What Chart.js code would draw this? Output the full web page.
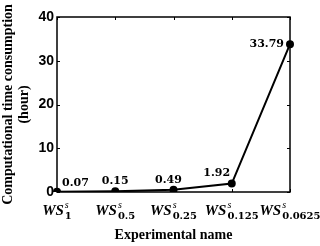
<!DOCTYPE html>
<html>
<head>
<meta charset="utf-8">
<script src="https://cdn.jsdelivr.net/npm/chart.js@4"></script>
<style>
  html, body { margin: 0; padding: 0; background: #fff; }
  #wrap { width: 320px; height: 246px; }
</style>
</head>
<body>
<div id="wrap"><canvas id="c"></canvas></div>
<script>
// experiment names are WS^s with these subscripts
const expSubs = ["1", "0.5", "0.25", "0.125", "0.0625"];
const hours = [0.07, 0.15, 0.49, 1.92, 33.79];
const yTicks = [0, 10, 20, 30, 40];

// where each value label sits relative to its point: dx, dy, align
const labelPlace = [
  [5, -5, "left"],
  [0, -6, "center"],
  [-5, -6, "center"],
  [-15, -6, "center"],
  [-6, 4, "right"],
];

const frame = {
  id: "frame",
  afterDraw(chart) {
    const { ctx, chartArea: a, scales } = chart;
    const x = scales.x, y = scales.y;
    ctx.save();
    ctx.strokeStyle = "#000";
    ctx.lineWidth = 1.5;
    ctx.strokeRect(a.left, a.top, a.right - a.left, a.bottom - a.top);

    // inward ticks
    ctx.lineWidth = 1;
    ctx.beginPath();
    yTicks.forEach(v => {
      const py = Math.round(y.getPixelForValue(v)) + 0.5;
      ctx.moveTo(a.left, py); ctx.lineTo(a.left + 3, py);
      ctx.moveTo(a.right, py); ctx.lineTo(a.right - 3, py);
    });
    expSubs.forEach((s, i) => {
      const px = Math.round(x.getPixelForValue(i)) + 0.5;
      ctx.moveTo(px, a.bottom); ctx.lineTo(px, a.bottom - 3);
      ctx.moveTo(px, a.top); ctx.lineTo(px, a.top + 3);
    });
    ctx.stroke();

    // category labels WS^s_sub
    ctx.fillStyle = "#000";
    ctx.textBaseline = "alphabetic";
    ctx.textAlign = "left";
    expSubs.forEach((s, i) => {
      const cx = x.getPixelForValue(i);
      ctx.font = "italic bold 15px 'Liberation Serif'";
      const wBase = ctx.measureText("WS").width;
      ctx.font = "bold 10px 'DejaVu Serif'";
      const wSub = ctx.measureText(s).width;
      const total = wBase + 1 + wSub;
      const x0 = cx - total / 2;
      const base = a.bottom + 23;
      ctx.font = "italic bold 15px 'Liberation Serif'";
      ctx.fillText("WS", x0, base);
      ctx.font = "italic 10px 'Liberation Serif'";
      ctx.fillText("s", x0 + wBase + 1, base - 7);
      ctx.font = "bold 10px 'DejaVu Serif'";
      ctx.fillText(s, x0 + wBase + 1, base + 4);
    });

    // value labels
    const meta = chart.getDatasetMeta(0);
    ctx.font = "bold 11px 'DejaVu Serif'";
    ctx.textBaseline = "middle";
    meta.data.forEach((pt, i) => {
      const [dx, dy, al] = labelPlace[i];
      ctx.textAlign = al;
      ctx.fillText(hours[i].toFixed(2), pt.x + dx, pt.y + dy - 4);
    });
    ctx.restore();
  }
};

new Chart(document.getElementById("c"), {
  type: "line",
  data: {
    labels: expSubs,
    datasets: [{
      data: hours,
      borderColor: "#000",
      backgroundColor: "#000",
      borderWidth: 2,
      pointRadius: 3,
      pointBackgroundColor: "#000",
      tension: 0,
    }],
  },
  options: {
    responsive: true,
    maintainAspectRatio: false,
    animation: false,
    layout: { padding: { top: 17, right: 30, left: 0, bottom: 0 } },
    plugins: { legend: { display: false }, tooltip: { enabled: false } },
    scales: {
      x: {
        offset: false,
        grid: { display: false, drawTicks: false },
        border: { display: false },
        ticks: { display: false },
        title: {
          display: true,
          text: "Experimental name",
          color: "#000",
          font: { family: "Liberation Serif", weight: "bold", size: 14 },
          padding: { top: 0, bottom: 2 },
        },
        afterFit(s) { s.height = 54; },
      },
      y: {
        min: 0,
        max: 40,
        grid: { display: false, drawTicks: false },
        border: { display: false },
        ticks: {
          stepSize: 10,
          color: "#000",
          padding: 3,
          font: { family: "Liberation Sans", weight: "bold", size: 14 },
        },
        title: {
          display: true,
          text: ["Computational time consumption", "(hour)"],
          color: "#000",
          font: { family: "Liberation Serif", weight: "bold", size: 14, lineHeight: 1.15 },
          padding: 0,
        },
        afterFit(s) { s.width = 57; },
      },
    },
  },
  plugins: [frame],
});
</script>
</body>
</html>
